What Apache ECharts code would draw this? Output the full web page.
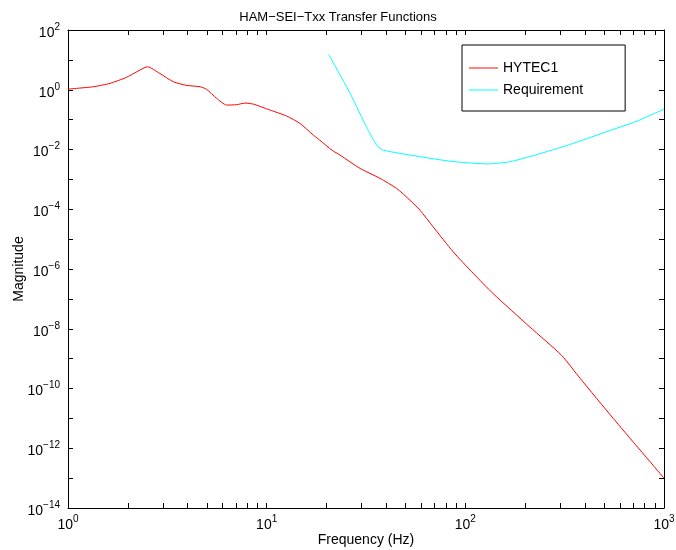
<!DOCTYPE html>
<html><head><meta charset="utf-8">
<script src="https://cdn.jsdelivr.net/npm/echarts@6/dist/echarts.min.js"></script>
<style>html,body{margin:0;padding:0;background:#fff}#c{width:676px;height:550px}</style>
</head><body><div id="c"></div>
<script>
// HYTEC1 transfer function (frequency in Hz, magnitude)
const hytecFreq = [1.0, 1.34, 1.63, 1.97, 2.22, 2.51, 2.90, 3.39, 3.96, 4.62, 4.99, 5.6, 6.29, 7.06, 7.78, 8.57, 10.4, 12.6, 14.7, 17.2, 18.5, 21.3, 23.4, 29.5, 37.2, 45.1, 52.6, 59.1, 68.9, 86.9, 109.7, 138, 211, 305, 378, 555, 1000];
const hytecMag  = [1.05, 1.26, 1.64, 2.6, 4.0, 5.9, 3.5, 1.85, 1.40, 1.26, 1.03, 0.515, 0.307, 0.316, 0.358, 0.33, 0.209, 0.132, 0.075, 0.030, 0.0206, 0.0095, 6.5e-3, 2.33e-3, 1.08e-3, 4.98e-4, 2.02e-4, 9.3e-5, 2.57e-5, 3.74e-6, 7.1e-7, 1.5e-7, 1.15e-8, 1.29e-9, 2.2e-10, 1.0e-11, 1.0e-13];
// Requirement curve
const reqFreq = [20.5, 26.4, 32.1, 36.1, 38.6, 57.7, 85.3, 128, 165, 226, 334, 494, 730, 1000];
const reqMag  = [15.3, 0.72, 0.05, 0.0129, 0.0095, 0.0059, 0.0040, 0.0033, 0.0038, 0.0066, 0.0145, 0.036, 0.089, 0.224];

const seriesNames = ['HYTEC1', 'Requirement'];
const xTickValues = [1,2,3,4,5,6,7,8,9,10,20,30,40,50,60,70,80,90,100,200,300,400,500,600,700,800,900,1000];
const xLabelValues = [1, 10, 100, 1000];
const yTickValues = [1e-14,1e-13,1e-12,1e-11,1e-10,1e-9,1e-8,1e-7,1e-6,1e-5,1e-4,1e-3,1e-2,1e-1,1,10,100];
const yLabelValues = [1e-14,1e-12,1e-10,1e-8,1e-6,1e-4,1e-2,1,100];

const FONT = "'Liberation Sans', Arial, Helvetica, sans-serif";
function powLabel(v) {
  const e = Math.round(Math.log10(v));
  const s = e < 0 ? '\u2212' + (-e) : String(e);
  return '{b|10}{s|' + s + '}';
}
const rich = {
  b: { fontSize: 14, fontFamily: FONT, color: '#000', padding: [6, 0, 0, 0] },
  s: { fontSize: 10, fontFamily: FONT, color: '#000', padding: [0, 0, 6, 0] }
};
function xAxisCfg(pos, main) {
  return {
    type: 'log', logBase: 10, min: 1, max: 1000, position: pos,
    axisLine: { show: true, onZero: false, lineStyle: { color: '#000', width: 1 } },
    axisTick: { show: true, inside: true, length: 5, customValues: xTickValues, lineStyle: { color: '#000' } },
    axisLabel: main ? { show: true, customValues: xLabelValues, formatter: powLabel, rich: rich, margin: 4, fontFamily: FONT } : { show: false },
    splitLine: { show: false },
    name: main ? 'Frequency (Hz)' : '', nameLocation: 'middle', nameGap: 25, nameMoveOverlap: false,
    nameTextStyle: { fontSize: 14, fontFamily: FONT, color: '#000' }
  };
}
function yAxisCfg(pos, main) {
  return {
    type: 'log', logBase: 10, min: 1e-14, max: 100, position: pos,
    axisLine: { show: true, onZero: false, lineStyle: { color: '#000', width: 1 } },
    axisTick: { show: true, inside: true, length: 5, customValues: yTickValues, lineStyle: { color: '#000' } },
    axisLabel: main ? { show: true, customValues: yLabelValues, formatter: powLabel, rich: rich, margin: 8, fontFamily: FONT } : { show: false },
    splitLine: { show: false },
    name: main ? 'Magnitude' : '', nameLocation: 'middle', nameGap: 42, nameMoveOverlap: false,
    nameTextStyle: { fontSize: 14, fontFamily: FONT, color: '#000' }
  };
}
const LINE_ICON = 'path://M0,0 L30,0 L30,1 L0,1 Z';

const chart = echarts.init(document.getElementById('c'));
chart.setOption({
  animation: false,
  backgroundColor: '#fff',
  title: { text: 'HAM\u2212SEI\u2212Txx Transfer Functions', left: 'center', top: 6,
    textStyle: { fontSize: 13, fontWeight: 'normal', fontFamily: FONT, color: '#000' } },
  grid: { left: 68, right: 12, top: 30, bottom: 42, containLabel: false, outerBoundsMode: 'none' },
  legend: {
    data: seriesNames.map(n => ({ name: n, icon: LINE_ICON })),
    orient: 'vertical', left: 462, top: 45,
    borderColor: '#000', borderWidth: 1, backgroundColor: '#fff',
    padding: [16, 42, 14, 7], itemWidth: 29, itemHeight: 14, itemGap: 8,
    textStyle: { fontSize: 14, fontFamily: FONT, color: '#000' }
  },
  xAxis: [xAxisCfg('bottom', true), xAxisCfg('top', false)],
  yAxis: [yAxisCfg('left', true), yAxisCfg('right', false)],
  series: [
    { name: seriesNames[0], type: 'line', xAxisIndex: 0, yAxisIndex: 0,
      data: hytecFreq.map((f, i) => [f, hytecMag[i]]),
      symbol: 'none', showSymbol: false, smooth: 0.2, color: '#ff0000',
      lineStyle: { color: '#ff0000', width: 1 } },
    { name: seriesNames[1], type: 'line', xAxisIndex: 0, yAxisIndex: 0,
      data: reqFreq.map((f, i) => [f, reqMag[i]]),
      symbol: 'none', showSymbol: false, smooth: 0.2, color: '#00ffff',
      lineStyle: { color: '#00ffff', width: 1 } }
  ]
});
</script></body></html>
